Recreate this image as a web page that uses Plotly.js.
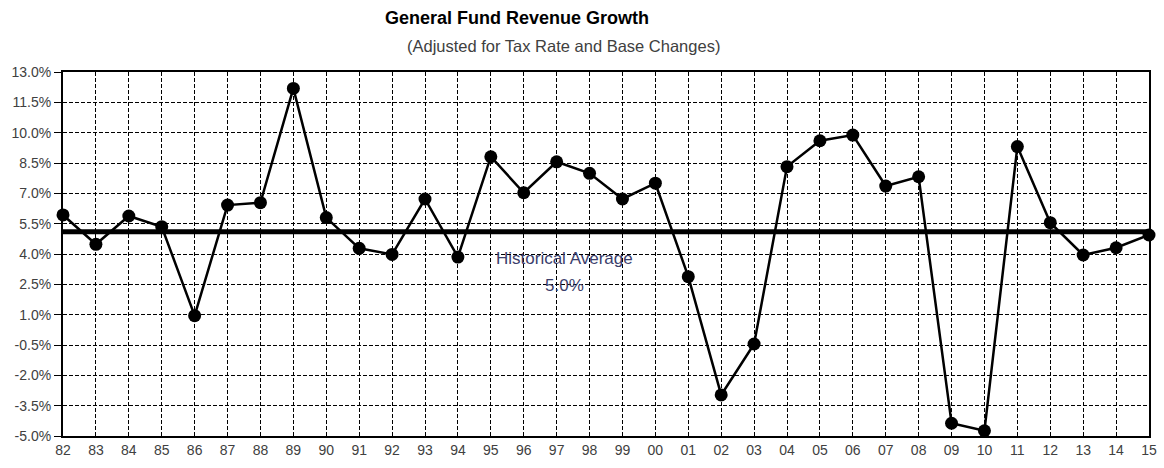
<!DOCTYPE html>
<html>
<head>
<meta charset="utf-8">
<script src="https://cdn.plot.ly/plotly-3.0.1.min.js"></script>
<style>
  html, body { margin: 0; padding: 0; background: #fff; }
  #chart { width: 1164px; height: 468px; }
</style>
</head>
<body>
<div id="chart"></div>
<script>
// fiscal years (two digit)
var years = ['82','83','84','85','86','87','88','89','90','91','92','93','94','95','96','97','98','99',
             '00','01','02','03','04','05','06','07','08','09','10','11','12','13','14','15'];

// revenue growth, percent
var growth = [5.93, 4.48, 5.88, 5.35, 0.95, 6.42, 6.54, 12.19, 5.8, 4.28, 3.98, 6.72, 3.85, 8.81, 7.03, 8.56, 7.99,
              6.72, 7.5, 2.88, -2.97, -0.45, 8.32, 9.6, 9.88, 7.36, 7.82, -4.37, -4.74, 9.31, 5.55, 3.95, 4.31, 4.94];

var avgValue = 5.1;
var avgLabel = ['Historical Average', '5.0%'];

var yTickVals = [13, 11.5, 10, 8.5, 7, 5.5, 4, 2.5, 1, -0.5, -2, -3.5, -5];
var yTickText = ['13.0%','11.5%','10.0%','8.5%','7.0%','5.5%','4.0%','2.5%','1.0%','-0.5%','-2.0%','-3.5%','-5.0%'];

var CHART = document.getElementById('chart');

var growthLine = {
  x: years,
  y: growth,
  type: 'scatter',
  mode: 'lines+markers',
  line: { color: '#000', width: 2.5 },
  marker: { color: '#000', size: 13 },
  cliponaxis: false,
  hoverinfo: 'x+y'
};

var gridDash = '4px,2px';

var layout = {
  width: 1164,
  height: 468,
  margin: { l: 63, r: 15, t: 72, b: 32 },
  paper_bgcolor: '#fff',
  plot_bgcolor: '#fff',
  showlegend: false,
  font: { family: 'Liberation Sans, Arial, sans-serif', color: '#404040', size: 14 },
  title: {
    text: '<b>General Fund Revenue Growth</b>',
    font: { family: 'Liberation Sans, Arial, sans-serif', size: 18, color: '#000' },
    x: 517 / 1164, xanchor: 'center',
    y: 1 - 18 / 468, yanchor: 'middle'
  },
  xaxis: {
    type: 'category',
    range: [0, years.length - 1],
    showgrid: true,
    gridcolor: '#000',
    gridwidth: 1,
    griddash: gridDash,
    showline: true,
    linecolor: '#000',
    linewidth: 2,
    mirror: true,
    ticks: '',
    tickfont: { size: 14, color: '#404040' },
    zeroline: false,
    fixedrange: true
  },
  yaxis: {
    range: [-5, 13],
    tickvals: yTickVals,
    ticktext: yTickText,
    showgrid: true,
    gridcolor: '#000',
    gridwidth: 1,
    griddash: gridDash,
    showline: true,
    linecolor: '#000',
    linewidth: 2,
    mirror: true,
    ticks: 'outside',
    ticklen: 7,
    tickcolor: '#000',
    tickfont: { size: 14, color: '#404040' },
    zeroline: false,
    fixedrange: true
  },
  shapes: [{
    type: 'line',
    xref: 'paper', yref: 'y',
    x0: 0, x1: 1, y0: avgValue, y1: avgValue,
    line: { color: '#000', width: 5 }
  }],
  annotations: [
    {
      text: '(Adjusted for Tax Rate and Base Changes)',
      xref: 'paper', yref: 'paper',
      x: (563 - 63) / 1086, y: 1 + (72 - 46) / 364,
      xanchor: 'center', yanchor: 'middle',
      showarrow: false,
      font: { size: 16.5, color: '#404040' }
    },
    {
      text: avgLabel[0],
      xref: 'paper', yref: 'y',
      x: (564 - 63) / 1086, y: 3.8,
      xanchor: 'center', yanchor: 'middle',
      showarrow: false,
      font: { size: 17, color: '#3a3d6b' }
    },
    {
      text: avgLabel[1],
      xref: 'paper', yref: 'y',
      x: (564 - 63) / 1086, y: 2.45,
      xanchor: 'center', yanchor: 'middle',
      showarrow: false,
      font: { size: 17, color: '#3a3d6b' }
    }
  ]
};

Plotly.newPlot(CHART, [growthLine], layout, { displayModeBar: false, staticPlot: true });
</script>
</body>
</html>
